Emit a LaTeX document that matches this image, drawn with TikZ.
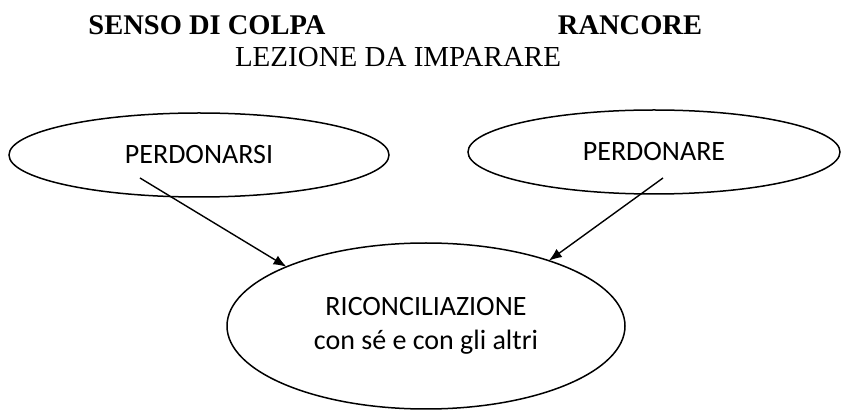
\documentclass[tikz,border=0pt]{standalone}
\usepackage{fontspec}
\setmainfont{Liberation Serif}
\newfontfamily\carl{Carlito}
\usetikzlibrary{shapes.geometric,arrows.meta}
\tikzset{
  bubble/.style={draw=black, line width=1.5pt, ellipse, inner sep=0pt, outer sep=0pt,
    align=center, font=\carl\fontsize{28}{34}\selectfont},
  title/.style={inner sep=0pt, anchor=base, font=\fontsize{29}{34}\selectfont},
  boldtitle/.style={title, font=\bfseries\fontsize{28.5}{34}\selectfont},
  link/.style={line width=1.4pt, -{Latex[length=13pt,width=10pt]}}
}
\begin{document}
\begin{tikzpicture}[x=1pt,y=-1pt]
\useasboundingbox (0,0) rectangle (841,411);
\node[boldtitle] (t1) at (207,35) {SENSO DI COLPA};
\node[boldtitle] (t2) at (630,35) {RANCORE};
\node[title] (t3) at (398,67) {LEZIONE DA IMPARARE};
\node[bubble, minimum width=380pt, minimum height=84pt] (L) at (199,155) {PERDONARSI};
\node[bubble, minimum width=372pt, minimum height=84pt] (R) at (654,152) {PERDONARE};
\node[bubble, minimum width=398pt, minimum height=166pt] (B) at (426,326) {RICONCILIAZIONE\\con sé e con gli altri};
\coordinate (s1) at (140,178);
\coordinate (s2) at (663,178);
\draw[link] (s1) -- (B.157.6);
\draw[link] (s2) -- (B.28.5);
\end{tikzpicture}
\end{document}
